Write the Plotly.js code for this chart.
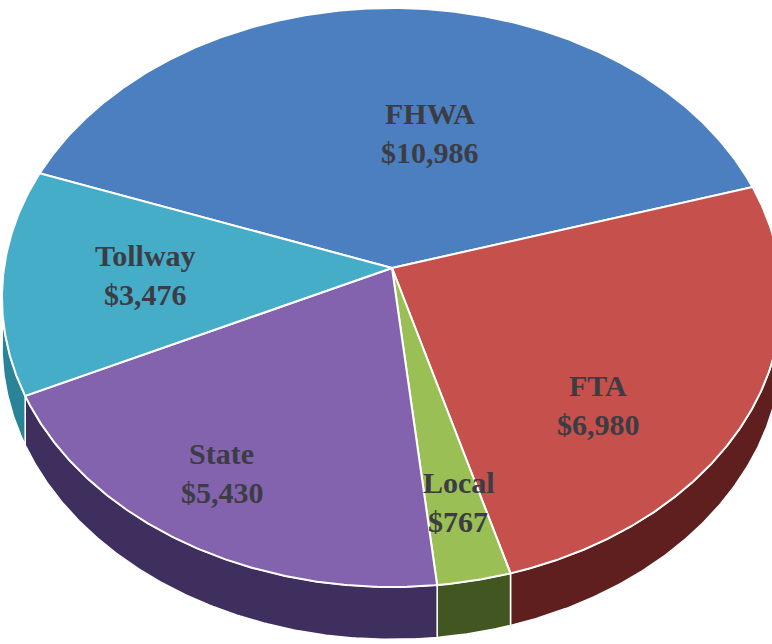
<!DOCTYPE html>
<html>
<head>
<meta charset="utf-8">
<script src="https://cdn.plot.ly/plotly-3.0.1.min.js"></script>
<style>html,body{margin:0;padding:0;background:#fff;}#chart{width:772px;height:644px;}</style>
</head>
<body>
<div id="chart"></div>
<script>
// ---- data ----
const categories = ['FHWA', 'FTA', 'Local', 'State', 'Tollway'];
const values = [10986, 6980, 767, 5430, 3476];
const valueLabels = ['$10,986', '$6,980', '$767', '$5,430', '$3,476'];

// ---- styles ----
const topColors  = ['#4b7fc0', '#c6504c', '#9abf55', '#8363ad', '#46adc8'];
const wallColors = ['#2d4f7c', '#5e1f1e', '#415621', '#3e2f5e', '#2a8498'];
// label anchor positions (layout, pixel space) : [nameX, nameY, valueX, valueY]
const labelPos = [
  [430, 113, 430, 152],
  [598, 385, 598, 424],
  [459, 482, 458, 521],
  [221, 453, 222, 492],
  [145, 255, 145, 294]
];

// ---- 3D pie geometry (pixel space of the axes) ----
const cx = 392, cy = 268, rx = 388, ry = 286.5, k = 0.102, depth = 47;
const startDeg = 200;
function proj(t, h) {
  const u = Math.cos(t), v = Math.sin(t);
  const s = 1 / (1 - k * v);
  return [cx + rx * u * s, cy + ry * v * s + (h || 0) * s];
}
const total = values.reduce((a, b) => a + b, 0);
const d2r = Math.PI / 180;
let acc = startDeg * d2r;
const slices = values.map(v => {
  const a0 = acc, a1 = acc + v / total * 2 * Math.PI;
  acc = a1;
  return [a0, a1];
});
function arc(a0, a1, h) {
  const n = Math.max(2, Math.ceil((a1 - a0) / (0.4 * d2r)));
  const pts = [];
  for (let i = 0; i <= n; i++) pts.push(proj(a0 + (a1 - a0) * i / n, h));
  return pts;
}

const traces = [];
// side walls (front half of the rim only)
slices.forEach(([a0, a1], i) => {
  [[0, Math.PI], [2 * Math.PI, 3 * Math.PI]].forEach(([v0, v1]) => {
    const b0 = Math.max(a0, v0), b1 = Math.min(a1, v1);
    if (b1 <= b0) return;
    const top = arc(b0, b1, 0);
    const bot = arc(b0, b1, depth).reverse();
    const pts = top.concat(bot);
    pts.push(pts[0]);
    traces.push({
      type: 'scatter', mode: 'lines', fill: 'toself',
      x: pts.map(p => p[0]), y: pts.map(p => p[1]),
      fillcolor: wallColors[i], line: {color: '#ffffff', width: 1.5},
      hoverinfo: 'skip', showlegend: false
    });
  });
});
// top faces
slices.forEach(([a0, a1], i) => {
  const pts = [[cx, cy]].concat(arc(a0, a1, 0));
  pts.push([cx, cy]);
  traces.push({
    type: 'scatter', mode: 'lines', fill: 'toself',
    x: pts.map(p => p[0]), y: pts.map(p => p[1]),
    fillcolor: topColors[i], line: {color: '#ffffff', width: 2},
    name: categories[i], hoverinfo: 'skip', showlegend: false
  });
});

const font = {family: 'Liberation Serif, DejaVu Serif, serif', size: 30, color: '#3c3c44', weight: 'bold'};
const annotations = [];
categories.forEach((c, i) => {
  const p = labelPos[i];
  annotations.push({x: p[0], y: p[1], xref: 'x', yref: 'y', text: c, showarrow: false, font: font, xanchor: 'center', yanchor: 'middle'});
  annotations.push({x: p[2], y: p[3], xref: 'x', yref: 'y', text: valueLabels[i], showarrow: false, font: font, xanchor: 'center', yanchor: 'middle'});
});

const layout = {
  width: 772, height: 644,
  margin: {l: 0, r: 0, t: 0, b: 0},
  paper_bgcolor: '#ffffff', plot_bgcolor: '#ffffff',
  xaxis: {range: [0, 772], visible: false, fixedrange: true},
  yaxis: {range: [644, 0], visible: false, fixedrange: true},
  showlegend: false,
  annotations: annotations
};
Plotly.newPlot('chart', traces, layout, {staticPlot: true, displayModeBar: false});
</script>
</body>
</html>
